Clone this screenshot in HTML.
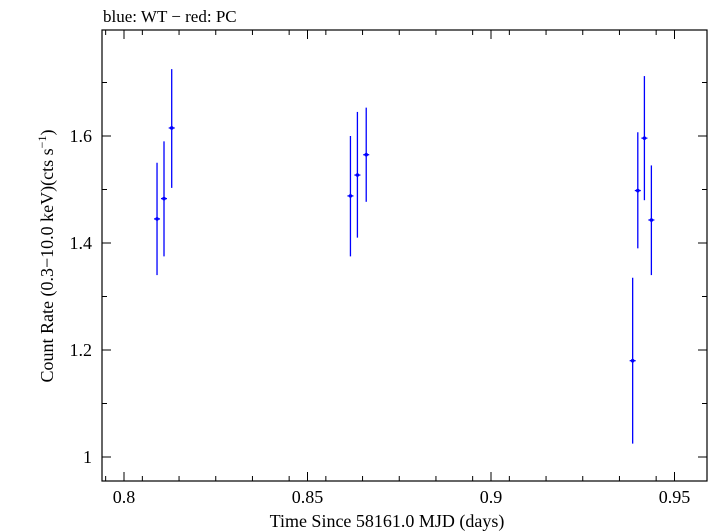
<!DOCTYPE html>
<html><head><meta charset="utf-8"><style>body{margin:0;background:#fff}svg{display:block}text{font-family:"Liberation Serif",serif;fill:#000}</style></head>
<body>
<svg id="chart" width="709" height="532" xmlns="http://www.w3.org/2000/svg">
<text x="103" y="22" font-size="17">blue: WT − red: PC</text>
<rect x="102" y="30" width="605" height="451" fill="none" stroke="#000" stroke-width="1.2"/>
<g id="ticks"></g><g id="marks"></g>
<text x="387" y="527" font-size="18" text-anchor="middle">Time Since 58161.0 MJD (days)</text>
<text transform="translate(53,256) rotate(-90)" font-size="18" text-anchor="middle">Count Rate (0.3−10.0 keV)(cts s<tspan font-size="12" dy="-7">−1</tspan><tspan dy="7">)</tspan></text>
</svg>
<script>
const times=[0.809,0.8109,0.813,0.8617,0.8636,0.866,0.9386,0.940,0.9418,0.9437];
const rates=[1.445,1.483,1.615,1.488,1.527,1.565,1.18,1.498,1.596,1.443];
const errLo=[1.34,1.375,1.503,1.375,1.41,1.477,1.025,1.39,1.48,1.34];
const errHi=[1.55,1.59,1.725,1.60,1.645,1.653,1.335,1.607,1.712,1.545];
const xTicks=[0.8,0.85,0.9,0.95];
const xTickLabels=["0.8","0.85","0.9","0.95"];
const yTicks=[1,1.2,1.4,1.6];
const yTickLabels=["1","1.2","1.4","1.6"];
const X=v=>124+(v-0.8)*3670;
const Y=v=>457-(v-1)*535;
const NS="http://www.w3.org/2000/svg";
function mk(parent,tag,attrs){const e=document.createElementNS(NS,tag);for(const k in attrs)e.setAttribute(k,attrs[k]);parent.appendChild(e);return e;}
const tg=document.getElementById('ticks'),mg=document.getElementById('marks');
for(let i=0;i<=15;i++){const v=0.795+i*0.01;const x=X(v);if(x<102||x>707)continue;
 let l=mk(tg,'line',{x1:x,x2:x,y1:481,y2:476,stroke:'#000'});
 l=mk(tg,'line',{x1:x,x2:x,y1:30,y2:35,stroke:'#000'});}
xTicks.forEach((v,i)=>{const x=X(v);
 let l=mk(tg,'line',{x1:x,x2:x,y1:481,y2:472,stroke:'#000'});
 l=mk(tg,'line',{x1:x,x2:x,y1:30,y2:39,stroke:'#000'});
 const t=mk(tg,'text',{x:x,y:503,'font-size':18,'text-anchor':'middle'});t.textContent=xTickLabels[i];});
for(let i=0;i<=9;i++){const v=0.9+i*0.1;const y=Y(v);if(y<30||y>481)continue;
 let l=mk(tg,'line',{x1:102,x2:107,y1:y,y2:y,stroke:'#000'});
 l=mk(tg,'line',{x1:702,x2:707,y1:y,y2:y,stroke:'#000'});}
yTicks.forEach((v,i)=>{const y=Y(v);
 let l=mk(tg,'line',{x1:102,x2:111,y1:y,y2:y,stroke:'#000'});
 l=mk(tg,'line',{x1:698,x2:707,y1:y,y2:y,stroke:'#000'});
 const t=mk(tg,'text',{x:92,y:y+6,'font-size':18,'text-anchor':'end'});t.textContent=yTickLabels[i];});
times.forEach((tv,i)=>{const x=X(tv);
 let l=mk(mg,'line',{x1:x,x2:x,y1:Y(errLo[i]),y2:Y(errHi[i]),stroke:'#0000ff','stroke-width':1.3});
 l=mk(mg,'line',{x1:x-3,x2:x+3,y1:Y(rates[i]),y2:Y(rates[i]),stroke:'#0000ff','stroke-width':1.3});
 const c=mk(mg,'circle',{cx:x,cy:Y(rates[i]),r:1.8,fill:'#0000ff'});});
</script>
</body></html>
